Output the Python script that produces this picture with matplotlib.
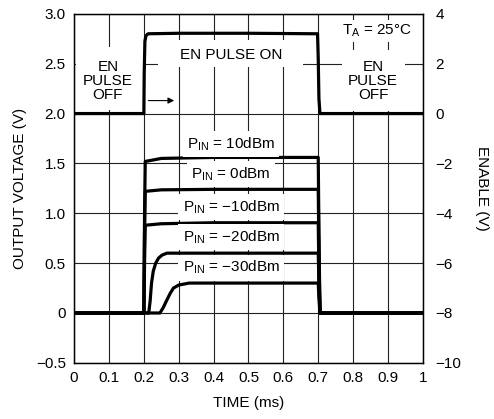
import matplotlib
matplotlib.use("Agg")
from matplotlib import pyplot as plt
from matplotlib.patches import Rectangle

plt.rcParams['font.family'] = ['Liberation Sans', 'DejaVu Sans']
plt.rcParams['font.size'] = 11

# enable pulse (right axis, volts)
t_en = [0, 0.200, 0.201, 0.203, 0.206, 0.212, 0.30, 0.50, 0.698, 0.700, 0.702, 0.705, 1.0]
v_en = [0, 0, 1.6, 2.9, 3.12, 3.2, 3.22, 3.22, 3.2, 2.2, 0.6, 0.0, 0.0]

# output traces (left axis, volts)
t_10 = [0, 0.200, 0.202, 0.204, 0.22, 0.25, 0.40, 0.60, 0.700, 0.702, 0.705, 1.0]
v_10 = [0, 0, 1.0, 1.52, 1.53, 1.55, 1.56, 1.56, 1.56, 0.8, 0, 0]
t_0 = [0, 0.200, 0.202, 0.204, 0.25, 0.40, 0.700, 0.702, 0.705, 1.0]
v_0 = [0, 0, 0.8, 1.22, 1.235, 1.24, 1.24, 0.6, 0, 0]
t_m10 = [0, 0.200, 0.202, 0.204, 0.25, 0.40, 0.700, 0.702, 0.705, 1.0]
v_m10 = [0, 0, 0.5, 0.88, 0.895, 0.905, 0.905, 0.4, 0, 0]
t_m20 = [0, 0.214, 0.218, 0.222, 0.227, 0.234, 0.242, 0.252, 0.266, 0.30, 0.700, 0.702, 0.705, 1.0]
v_m20 = [0, 0, 0.12, 0.3, 0.42, 0.5, 0.55, 0.58, 0.6, 0.6, 0.6, 0.3, 0, 0]
t_m30 = [0, 0.246, 0.255, 0.266, 0.276, 0.285, 0.30, 0.33, 0.40, 0.700, 0.702, 0.705, 1.0]
v_m30 = [0, 0, 0.05, 0.13, 0.2, 0.25, 0.28, 0.3, 0.3, 0.3, 0.15, 0, 0]

x_ticks = [0, 0.1, 0.2, 0.3, 0.4, 0.5, 0.6, 0.7, 0.8, 0.9, 1.0]
x_labels = ['0', '0.1', '0.2', '0.3', '0.4', '0.5', '0.6', '0.7', '0.8', '0.9', '1']
y_ticks = [-0.5, 0, 0.5, 1.0, 1.5, 2.0, 2.5, 3.0]
y_labels = ['\u22120.5', '0', '0.5', '1.0', '1.5', '2.0', '2.5', '3.0']
y2_ticks = [-10, -8, -6, -4, -2, 0, 2, 4]
y2_labels = ['\u221210', '\u22128', '\u22126', '\u22124', '\u22122', '0', '2', '4']

pin_labels = ['10dBm', '0dBm', '\u221210dBm', '\u221220dBm', '\u221230dBm']
pin_y = [1.69, 1.395, 1.065, 0.765, 0.455]

fig = plt.figure(figsize=(4.94, 4.19), dpi=100)
ax = fig.add_axes([0.150, 0.134, 0.706, 0.833])
ax.set_xlim(0, 1)
ax.set_ylim(-0.5, 3.0)
ax.set_xticks(x_ticks)
ax.set_xticklabels(x_labels)
ax.set_yticks(y_ticks)
ax.set_yticklabels(y_labels)
ax.tick_params(length=0, pad=6)
ax.grid(True, color='#222222', lw=0.8)
ax.set_axisbelow(True)
for s in ax.spines.values():
    s.set_linewidth(1.0)

ax2 = ax.twinx()
ax2.set_ylim(-10, 4)
ax2.set_yticks(y2_ticks)
ax2.set_yticklabels(y2_labels)
ax2.tick_params(length=0, pad=9)

# white blanking boxes behind the annotations (hide the grid)
for x0, x1, y0, y1 in [(0.006, 0.197, 2.04, 2.67), (0.768, 0.948, 2.03, 2.64),
                       (0.24, 0.656, 2.47, 2.74), (0.77, 0.97, 2.72, 2.94)]:
    ax.add_patch(Rectangle((x0, y0), x1 - x0, y1 - y0, facecolor='white',
                           edgecolor='none', zorder=1))

lw = 2.3
for t, v in [(t_10, v_10), (t_0, v_0), (t_m10, v_m10), (t_m20, v_m20), (t_m30, v_m30)]:
    ax.plot(t, v, color='black', lw=lw, zorder=3)
ax2.plot(t_en, v_en, color='black', lw=lw, zorder=3)

ax.text(0.097, 2.33, 'EN\nPULSE\nOFF', ha='center', va='center', linespacing=1.0, zorder=4)
ax.text(0.857, 2.33, 'EN\nPULSE\nOFF', ha='center', va='center', linespacing=1.0, zorder=4)
ax.text(0.45, 2.59, 'EN PULSE ON', ha='center', va='center', zorder=4)
ax.text(0.868, 2.83, r'T$_\mathregular{A}$ = 25°C', ha='center', va='center', zorder=4)
ax.annotate('', xy=(0.295, 2.13), xytext=(0.205, 2.13),
            arrowprops=dict(arrowstyle='-|>', color='black', lw=0.8, mutation_scale=9), zorder=4)

box = dict(facecolor='white', edgecolor='none', pad=3)
for lab, y in zip(pin_labels, pin_y):
    ax.text(0.45, y, r'P$_\mathregular{IN}$ = ' + lab, ha='center', va='center', bbox=box, zorder=4)

ax.set_xlabel('TIME (ms)', labelpad=8)
ax.set_ylabel('OUTPUT VOLTAGE (V)', labelpad=6)
ax2.set_ylabel('ENABLE (V)', rotation=-90, labelpad=20)

fig.savefig('out.png', dpi=100)
